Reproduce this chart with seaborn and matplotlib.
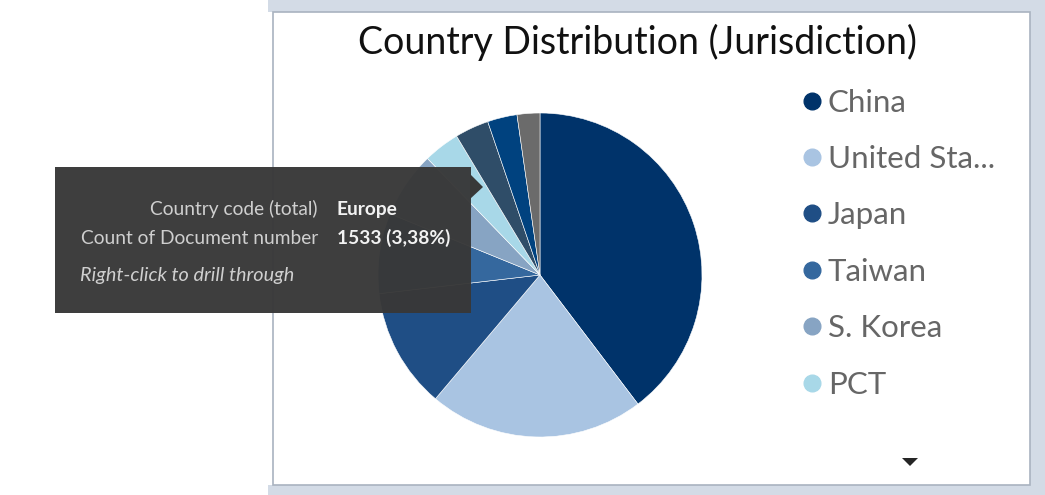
import matplotlib
matplotlib.use("Agg")
import matplotlib.pyplot as plt
import seaborn as sns
from matplotlib.patches import Rectangle, Polygon
from matplotlib.lines import Line2D

# data (Europe is given by the tooltip: 1533 = 3,38%)
countries = ["China", "United Sta...", "Japan", "Taiwan", "S. Korea", "PCT",
             "Europe", "Germany", "Others"]
doc_counts = [17990, 9750, 5440, 3630, 3000, 1640, 1533, 1340, 1030]
slice_colors = ["#00336a", "#a9c4e2", "#1f4e85", "#35689e", "#87a4c3",
                "#a8d8e8", "#2f4d68", "#00427f", "#6b6b6b"]
legend_shown = 6

tip_labels = ["Country code (total)", "Count of Document number"]
tip_values = ["Europe", "1533 (3,38%)"]
tip_hint = "Right-click to drill through"

sns.set_theme(style="white")
plt.rcParams["font.family"] = ["Lato", "DejaVu Sans"]

W, H = 1045, 495
fig = plt.figure(figsize=(W / 100, H / 100), dpi=100)
fig.patch.set_facecolor("white")

# background layer in pixel coordinates
bg = fig.add_axes([0, 0, 1, 1], zorder=0)
bg.set_xlim(0, W)
bg.set_ylim(H, 0)
bg.axis("off")
shade = "#d3dbe6"
bg.add_patch(Rectangle((268, 0), W - 268, 12, color=shade, lw=0))
bg.add_patch(Rectangle((1030, 0), W - 1030, H, color=shade, lw=0))
bg.add_patch(Rectangle((268, 485), W - 268, H - 485, color=shade, lw=0))
bg.add_patch(Rectangle((273, 12), 757, 473, facecolor="white",
                       edgecolor="#a9b3c0", lw=1.2))
bg.text(637, 42, "Country Distribution (Jurisdiction)", ha="center",
        va="center", fontsize=27, color="#111111")
bg.add_patch(Polygon([[902, 458], [918, 458], [910, 466]], closed=True,
                     color="#252525", lw=0))

# pie chart: center (540, 275), radius 162 px
cx, cy, r = 540, 275, 162
ax = fig.add_axes([(cx - r) / W, (H - cy - r) / H, 2 * r / W, 2 * r / H],
                  zorder=1)
palette = sns.color_palette(slice_colors)
wedges, _ = ax.pie(doc_counts, colors=palette, startangle=90,
                   counterclock=False, radius=1,
                   wedgeprops=dict(linewidth=0.4, edgecolor="white"))
ax.set_xlim(-1, 1)
ax.set_ylim(-1, 1)
ax.axis("off")

handles = [Line2D([], [], marker="o", linestyle="", markersize=12,
                  color=palette[i]) for i in range(legend_shown)]
leg = fig.legend(handles, countries[:legend_shown], loc="upper left",
                 bbox_to_anchor=(784 / W, 1 - 76 / H), frameon=False,
                 fontsize=22.5, labelspacing=0.91, handletextpad=0.0,
                 handlelength=1.0, borderaxespad=0)
for t in leg.get_texts():
    t.set_color("#666666")

# tooltip overlay
fg = fig.add_axes([0, 0, 1, 1], zorder=3)
fg.set_xlim(0, W)
fg.set_ylim(H, 0)
fg.axis("off")
fg.add_patch(Rectangle((55, 167), 416, 146, color="#383838", alpha=0.97,
                       lw=0))
fg.add_patch(Polygon([[470, 174], [483, 187], [470, 199]], closed=True,
                     color="#383838", lw=0))
for i, (lab, val) in enumerate(zip(tip_labels, tip_values)):
    y = 209 + i * 29
    fg.text(318, y, lab, ha="right", va="center", fontsize=13.8,
            color="#cfcfcf")
    fg.text(337, y, val, ha="left", va="center", fontsize=13.8,
            color="#f2f2f2", fontweight="bold")
fg.text(80, 276, tip_hint, ha="left", va="center", fontsize=14.3,
        color="#cfcfcf", style="italic")

fig.savefig("out.png", dpi=100)
